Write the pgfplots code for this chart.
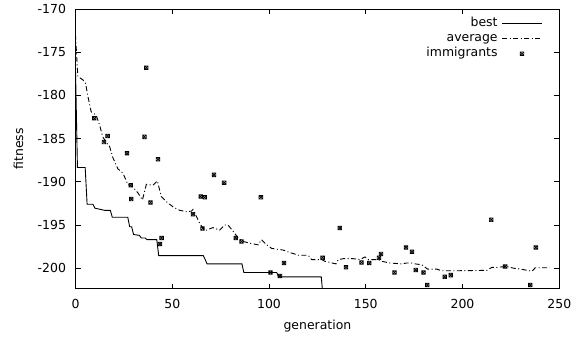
\documentclass[border=0pt]{standalone}
\usepackage{fontspec}
\setmainfont{DejaVu Sans}
\usepackage{pgfplots}
\pgfplotsset{compat=1.18}
\pgfdeclareplotmark{sqx}{%
  \pgfpathrectangle{\pgfqpoint{-\pgfplotmarksize}{-\pgfplotmarksize}}{\pgfqpoint{2\pgfplotmarksize}{2\pgfplotmarksize}}%
  \pgfpathmoveto{\pgfqpoint{-\pgfplotmarksize}{-\pgfplotmarksize}}%
  \pgfpathlineto{\pgfqpoint{\pgfplotmarksize}{\pgfplotmarksize}}%
  \pgfpathmoveto{\pgfqpoint{-\pgfplotmarksize}{\pgfplotmarksize}}%
  \pgfpathlineto{\pgfqpoint{\pgfplotmarksize}{-\pgfplotmarksize}}%
  \pgfusepathqstroke}
\pgfplotsset{
  lineleg/.style={legend image code/.code={\draw[##1] (0bp,0bp) -- (40bp,0bp);}},
  markleg/.style={legend image code/.code={\draw[##1] plot coordinates {(20bp,0bp)};}},
}
\begin{document}
\begin{tikzpicture}
\begin{axis}[
  scale only axis, width=483.8bp, height=279.5bp,
  xmin=0, xmax=250, ymin=-202.35, ymax=-170,
  xtick={0,50,...,250}, ytick={-200,-195,...,-170},
  tick align=inside, major tick length=5bp,
  axis line style={line width=0.9bp},
  every tick/.style={black, line width=0.8bp},
  font=\fontsize{12.5}{15}\selectfont,
  /pgf/number format/assume math mode=true,
  yticklabel style={xshift=-6bp},
  xticklabel style={yshift=-7bp},
  xlabel={generation}, ylabel={fitness},
  xlabel style={at={(axis description cs:0.5,0)}, anchor=center, yshift=-38bp},
  ylabel style={at={(axis description cs:-0.118,0.5)}, anchor=center},
  legend plot pos=right,
  legend cell align=right,
  legend style={at={(axis description cs:1,1)}, anchor=north east, xshift=-16.6bp, yshift=-7bp,
    draw=none, fill=none, inner sep=0pt, row sep=0pt, column sep=4bp,
    nodes={inner sep=0pt, text height=10bp, text depth=5bp}},
]
\addplot[black, line width=0.9bp, lineleg] coordinates {
(0,-177) (1,-188.35) (5,-188.35) (6,-192.6) (9,-192.6) (10,-193.05) (15,-193.3) (18,-193.3)
(19,-194.1) (27,-194.1) (28,-195.2) (29,-195.2) (30,-196.1) (33,-196.2) (34,-196.5) (36,-196.5)
(37,-196.7) (42,-196.7) (43,-198.55) (66,-198.55) (67,-199.0) (68,-199.5) (86,-199.5)
(87,-200.5) (104,-200.5) (105,-201.0) (127,-201.0) (128,-203.5) (250,-203.5)};
\addlegendentry{best}
\addplot[black, line width=0.9bp, dash pattern=on 5bp off 2.5bp on 1bp off 2.5bp, lineleg] coordinates {
(0,-173.0) (1.2,-177.8) (3.8,-178.2) (5.2,-178.6) (6.4,-180.1) (8.1,-181.9) (10.7,-182.3)
(12.4,-183.4) (14.1,-184.8) (16.7,-185.7) (17.6,-185.9) (19.3,-187.2) (21.9,-188.5)
(24.5,-189.0) (27.1,-190.3) (29.7,-190.6) (32.3,-191.3) (34.6,-192.1) (36.6,-190.3)
(40,-190.4) (42.3,-189.9) (44.3,-191.7) (46.9,-192.3) (50.4,-192.9) (53.8,-193.3)
(57.3,-193.45) (59.9,-193.4) (60.7,-193.2) (64.2,-194.8) (65.9,-195.4) (67.6,-195.6)
(71,-195.3) (74.5,-195.6) (77.1,-195.0) (78.8,-195.0) (81.4,-195.7) (84,-196.5) (86.6,-196.9)
(90,-197.1) (94.4,-197.3) (96.1,-196.7) (98.3,-197.2) (101.3,-197.7) (104,-197.8)
(107.3,-197.9) (110.8,-198.2) (112.5,-198.3) (115.1,-198.5) (120.2,-198.5) (122,-199.0)
(127.1,-199.0) (128.9,-199.2) (134.6,-199.5) (135.8,-199.0) (138.4,-198.9) (143.5,-198.9)
(147,-199.0) (149.6,-198.7) (151.3,-199.0) (156.5,-199.0) (158.2,-199.2) (162.5,-199.4)
(168.6,-199.5) (171.1,-199.4) (173.7,-199.4) (175.5,-199.5) (178.9,-199.6) (181.9,-200.1)
(186.6,-200.1) (189.2,-200.3) (195.3,-200.3) (212.6,-200.25) (215.2,-199.9) (217.7,-199.9)
(222.9,-199.8) (226.4,-200.0) (229.8,-200.1) (235.9,-200.35) (237.6,-199.95) (245,-199.95)};
\addlegendentry{average}
\addplot[only marks, mark=sqx, mark size=1.8bp, black, line width=0.7bp, markleg] coordinates {
(9.7,-182.65) (14.7,-185.4) (16.6,-184.7) (26.6,-186.7) (28.5,-190.4) (28.8,-192.0)
(35.7,-184.8) (36.6,-176.8) (38.8,-192.4) (42.6,-187.4) (43.6,-197.2) (44.5,-196.5)
(60.7,-193.75) (64.7,-191.7) (65.6,-195.4) (66.8,-191.8) (71.6,-189.2) (76.8,-190.1)
(82.8,-196.5) (85.8,-196.9) (95.8,-191.8) (100.8,-200.5) (105.6,-200.9) (107.7,-199.4)
(127.7,-198.8) (136.6,-195.35) (139.8,-199.9) (147.8,-199.35) (151.8,-199.4) (156.8,-198.8)
(157.9,-198.35) (164.8,-200.5) (170.8,-197.6) (173.9,-198.1) (175.8,-200.2) (179.8,-200.5)
(181.8,-201.95) (190.8,-201.0) (193.9,-200.8) (214.8,-194.4) (222.0,-199.8) (235.0,-201.95)
(237.9,-197.6)};
\addlegendentry{immigrants}
\end{axis}
\pgfresetboundingbox
\path (current axis.south west) ++(-75.5bp,-52.5bp) coordinate (bbA);
\path (current axis.north east) ++(26.7bp,9bp) coordinate (bbB);
\useasboundingbox (bbA) rectangle (bbB);
\end{tikzpicture}
\end{document}
